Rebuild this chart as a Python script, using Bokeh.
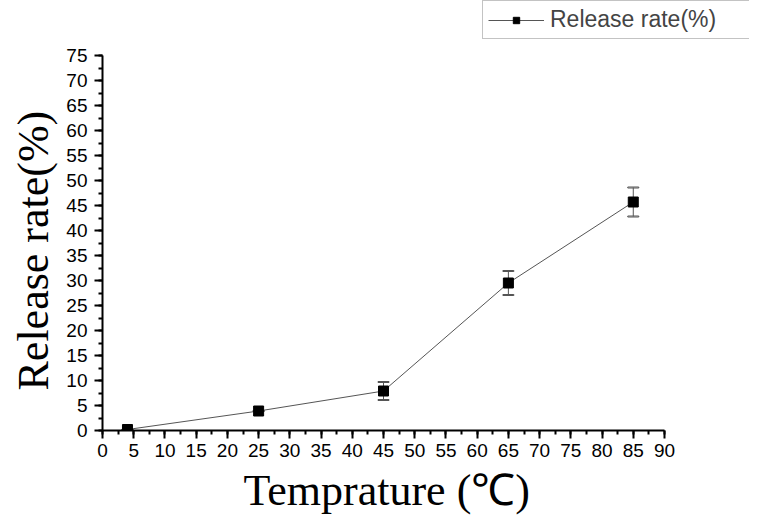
from bokeh.plotting import figure
from bokeh.models import Range1d, SingleIntervalTicker, Legend, LegendItem, ColumnDataSource, Title
from bokeh.embed import file_html
from bokeh.resources import INLINE

temperature = [4, 25, 45, 65, 85]
release_rate = [0.2, 3.9, 7.9, 29.5, 45.7]
error = [0.0, 0.0, 1.8, 2.4, 2.9]

x_axis_min, x_axis_max = 0, 90
y_axis_min, y_axis_max = 0, 75
x_ticks_interval = 5
y_ticks_interval = 5

lower = [r - e for r, e in zip(release_rate, error)]
upper = [r + e for r, e in zip(release_rate, error)]
src = ColumnDataSource(dict(x=temperature, y=release_rate, lo=lower, hi=upper))

# frame extends past the axes' ends so the legend can sit in the top-right corner
W, H = 751, 529
LEFT, RIGHT, BOTTOM = 102, 2, 99
AXIS_W, AXIS_H = 562, 375
frame_w, frame_h = W - LEFT - RIGHT, H - BOTTOM
x_end = x_axis_max * frame_w / AXIS_W
y_end = y_axis_max * frame_h / AXIS_H

p = figure(width=W, height=H, output_backend="svg", toolbar_location=None,
           x_range=Range1d(x_axis_min, x_end), y_range=Range1d(y_axis_min, y_end),
           min_border_left=LEFT, min_border_right=RIGHT, min_border_top=0, min_border_bottom=BOTTOM)
p.outline_line_color = None
p.grid.visible = False
p.background_fill_color = "white"

for ax in (p.xaxis[0], p.yaxis[0]):
    ax.axis_line_width = 2
    ax.axis_line_color = "black"
    ax.major_tick_line_width = 2
    ax.minor_tick_line_width = 2
    ax.major_tick_out = 8
    ax.major_tick_in = 0
    ax.minor_tick_out = 4
    ax.minor_tick_in = 0
    ax.major_label_text_font = "Liberation Sans"
    ax.major_label_text_font_size = "19px"
    ax.major_label_text_color = "black"

p.xaxis.bounds = (x_axis_min, x_axis_max)
p.yaxis.bounds = (y_axis_min, y_axis_max)
p.xaxis.ticker = SingleIntervalTicker(interval=x_ticks_interval, num_minor_ticks=2)
p.yaxis.ticker = SingleIntervalTicker(interval=y_ticks_interval, num_minor_ticks=2)
p.xaxis.major_label_standoff = 5
p.yaxis.major_label_standoff = 7

# axis titles placed along the drawn axes (not the wider frame)
x_title = Title(text="Temprature (\u2103)", align="left", offset=141,
                text_font="Liberation Serif", text_font_size="44px", text_font_style="normal",
                text_color="black", standoff=8)
y_title = Title(text="Release rate(%)", align="left", offset=40,
                text_font="Liberation Serif", text_font_size="44px", text_font_style="normal",
                text_color="black", standoff=11)
p.add_layout(x_title, "below")
p.add_layout(y_title, "left")

# error bars
p.segment(x0="x", y0="lo", x1="x", y1="hi", source=src, line_color="#555555", line_width=1)
p.rect(x="x", y="lo", width=11, height=1, width_units="screen", height_units="screen",
       source=src, fill_color=None, line_color="#555555", line_width=1)
p.rect(x="x", y="hi", width=11, height=1, width_units="screen", height_units="screen",
       source=src, fill_color=None, line_color="#555555", line_width=1)

line_r = p.line(x="x", y="y", source=src, line_color="#555555", line_width=1)
sq_r = p.scatter(x="x", y="y", source=src, marker="square", size=10,
                 fill_color="black", line_color="black")

legend = Legend(items=[LegendItem(label="Release rate(%)", renderers=[line_r, sq_r])],
                location=(380, 391), label_text_font="Liberation Sans",
                label_text_font_size="23px", glyph_width=56, glyph_height=16,
                label_width=194, label_height=18,
                border_line_color="#888888", border_line_width=1,
                padding=5, margin=0, label_standoff=6, background_fill_alpha=1)
p.add_layout(legend)

open("out.html", "w").write(file_html(p, INLINE))
